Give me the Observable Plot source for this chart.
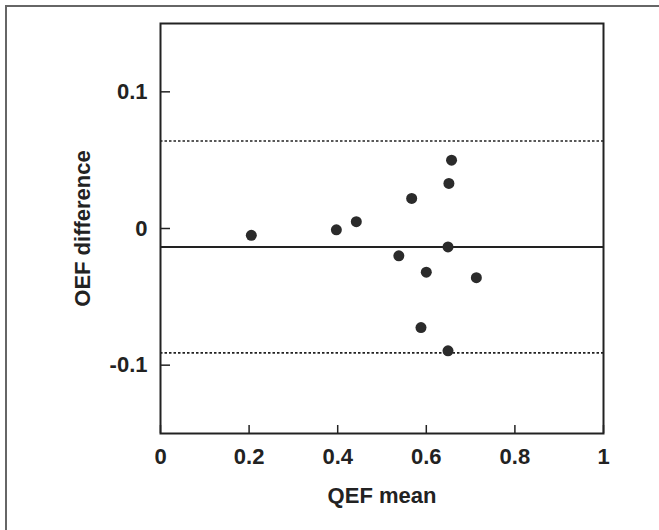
<!DOCTYPE html>
<html>
<head>
<meta charset="utf-8">
<script src="https://cdn.jsdelivr.net/npm/d3@7"></script>
<script src="https://cdn.jsdelivr.net/npm/@observablehq/plot@0.6"></script>
<style>
  html, body { margin: 0; padding: 0; background: #fff; }
  #wrap { position: relative; width: 659px; height: 530px; overflow: hidden; }
  #border { position: absolute; left: 5px; top: 5px; right: -10px; bottom: -10px; border-top: 2px solid #666; border-left: 2px solid #666; pointer-events: none; }
</style>
</head>
<body>
<div id="wrap"><div id="border"></div></div>
<script>
// Data (Bland-Altman style plot)
const oefMean = [0.205, 0.397, 0.442, 0.538, 0.567, 0.600, 0.588, 0.649, 0.649, 0.651, 0.657, 0.713];
const oefDiff = [-0.005, -0.001, 0.005, -0.020, 0.022, -0.032, -0.0725, -0.0135, -0.0895, 0.033, 0.050, -0.036];
const meanDiff = [-0.0136];
const limits = [0.064, -0.091];
const xTicks = [0, 0.2, 0.4, 0.6, 0.8, 1];
const xTickLabels = ["0", "0.2", "0.4", "0.6", "0.8", "1"];
const yTicks = [0.1, 0, -0.1];
const yTickLabels = ["0.1", "0", "-0.1"];

const points = oefMean.map((m, i) => ({mean: m, diff: oefDiff[i]}));

const chart = Plot.plot({
  width: 659,
  height: 530,
  marginLeft: 160,
  marginRight: 56,
  marginTop: 23,
  marginBottom: 97,
  style: {fontFamily: "'Liberation Sans', Arial, sans-serif", fontWeight: "bold", color: "#222", background: "transparent"},
  x: {domain: [0, 1]},
  y: {domain: [-0.15, 0.15]},
  marks: [
    Plot.ruleY(limits, {stroke: "#222", strokeWidth: 1.6, strokeDasharray: "2.5,2"}),
    Plot.ruleY(meanDiff, {stroke: "#222", strokeWidth: 2}),
    Plot.dot(points, {x: "mean", y: "diff", r: 5.5, fill: "#2b2b2b", stroke: "none"}),
    Plot.frame({stroke: "#222", strokeWidth: 2}),
    Plot.axisX({
      ticks: xTicks,
      tickFormat: (d, i) => xTickLabels[i],
      tickSize: -8,
      tickPadding: 23,
      fontSize: 22,
      stroke: "#222",
      strokeWidth: 1.5,
      label: "QEF mean",
      labelAnchor: "center",
      labelArrow: "none",
      labelOffset: 69
    }),
    Plot.axisY({
      ticks: yTicks,
      tickFormat: (d, i) => yTickLabels[i],
      tickSize: -10,
      tickPadding: 23,
      fontSize: 22,
      stroke: "#222",
      strokeWidth: 1.5,
      label: "OEF difference",
      labelAnchor: "center",
      labelArrow: "none",
      labelOffset: 86
    })
  ]
});
chart.style.fontSize = "24px";
document.getElementById("wrap").prepend(chart);
</script>
</body>
</html>
